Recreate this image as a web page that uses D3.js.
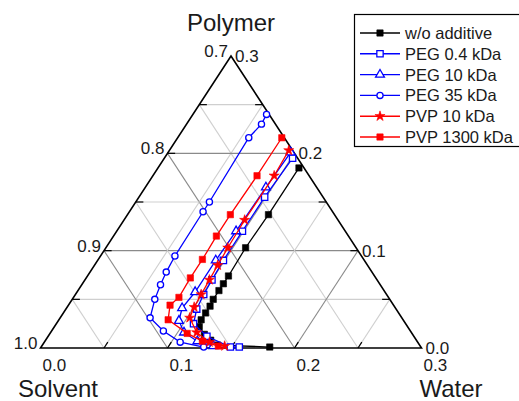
<!DOCTYPE html>
<html><head><meta charset="utf-8">
<script src="https://cdn.jsdelivr.net/npm/d3@7"></script>
<style>body{margin:0;background:#fff;}svg{display:block;font-family:"Liberation Sans",Arial,sans-serif;}</style>
</head><body><svg id="c" width="519" height="401"></svg>
<script>
// ---- data: each point is [water fraction, polymer fraction]; solvent = 1 - water - polymer
const seriesNames = ["w/o additive","PEG 0.4 kDa","PEG 10 kDa","PEG 35 kDa","PVP 10 kDa","PVP 1300 kDa"];
const woAdditive = [[.111,.185],[.111,.137],[.110,.103],[.111,.074],[.111,.066],[.111,.059],[.111,.050],[.112,.043],[.112,.036],[.112,.029],[.114,.022],[.122,.014],[.130,.008],[.138,.003],[.180,.001]];
const peg04 = [[.101,.195],[.099,.155],[.099,.120],[.099,.090],[.100,.070],[.101,.055],[.103,.040],[.108,.025],[.125,.012],[.149,.001],[.156,.001]];
const peg10 = [[.0965,.201],[.095,.165],[.094,.120],[.093,.090],[.093,.0575],[.091,.041],[.095,.028],[.105,.016],[.120,.007],[.135,.002]];
const peg35 = [[.058,.240],[.059,.230],[.056,.216],[.058,.150],[.058,.140],[.0586,.0945],[.060,.078],[.062,.065],[.065,.050],[.0708,.031],[.088,.0175],[.107,.006],[.128,.001]];
const pvp10 = [[.094,.203],[.0955,.177],[.095,.1315],[.096,.103],[.097,.085],[.098,.070],[.099,.055],[.100,.042],[.102,.031],[.115,.016],[.130,.006],[.144,.002]];
const pvp1300 = [[.082,.216],[.082,.177],[.081,.137],[.081,.115],[.082,.091],[.082,.072],[.083,.052],[.080,.044],[.086,.029],[.108,.015],[.124,.007],[.139,.002]];
const seriesData = [woAdditive, peg04, peg10, peg35, pvp10, pvp1300];
const seriesColors = ["#000000","#0000ff","#0000ff","#0000ff","#ff0000","#ff0000"];
const seriesSymbols = ["square","square","triangle","circle","star","square"];
const seriesFilled = [true,false,false,false,true,true];
const gridValues = [0.05,0.10,0.15,0.20,0.25];
const solventTicks = ["1.0","0.9","0.8","0.7"];
const waterTicks = ["0.0","0.1","0.2","0.3"];
const polymerTicks = ["0.0","0.1","0.2","0.3"];
const axisTitles = {top:"Polymer", left:"Solvent", right:"Water"};

// ---- geometry
const BL = {x:40.5, y:348}, BR = {x:421.5, y:348}, T = {x:231, y:56};
const wX = d3.scaleLinear().domain([0,0.3]).range([0, BR.x-BL.x]);
const pX = d3.scaleLinear().domain([0,0.3]).range([0, T.x-BL.x]);
const pY = d3.scaleLinear().domain([0,0.3]).range([BL.y, T.y]);
const P = (w,p) => [BL.x + wX(w) + pX(p), pY(p)];

const svg = d3.select("#c");
const g = svg.append("g");

// grid lines
gridValues.forEach(v => {
  const major = Math.abs(v*10 - Math.round(v*10)) < 1e-6;
  const col = major ? "#8a8a8a" : "#cfcfcf";
  const segs = [
    [P(0,v), P(0.3-v,v)],
    [P(v,0), P(v,0.3-v)],
    [P(0.3-v,0), P(0,0.3-v)]
  ];
  segs.forEach(s => g.append("line").attr("x1",s[0][0]).attr("y1",s[0][1]).attr("x2",s[1][0]).attr("y2",s[1][1])
    .attr("stroke",col).attr("stroke-width",1.1));
});

// frame
g.append("path").attr("d", d3.line()([P(0,0),P(0.3,0),P(0,0.3)]) + "Z")
  .attr("fill","none").attr("stroke","#000").attr("stroke-width",1.6);

// small ticks
gridValues.forEach(v=>{
  const L = 0.006;
  [[P(0,v),P(L,v)],[P(v,0),P(v,L)],[P(0.3-v,v),P(0.3-v-L,v)]].forEach(s=>
    g.append("line").attr("x1",s[0][0]).attr("y1",s[0][1]).attr("x2",s[1][0]).attr("y2",s[1][1]).attr("stroke","#000").attr("stroke-width",1.2));
});

// tick labels
const tl = g.append("g").attr("font-size",17).attr("fill","#1a1a1a");
waterTicks.forEach((t,i)=>{ const q=P(i*0.1,0); tl.append("text").attr("x",q[0]+2).attr("y",q[1]+23).text(t); });
solventTicks.forEach((t,i)=>{ const q=P(0,i*0.1); tl.append("text").attr("x",q[0]-3).attr("y",q[1]+1).attr("text-anchor","end").text(t); });
polymerTicks.forEach((t,i)=>{ const q=P(0.3-i*0.1,i*0.1); tl.append("text").attr("x",q[0]+4).attr("y",q[1]+6).text(t); });

// axis titles
const tt = g.append("g").attr("font-size",24).attr("fill","#1a1a1a");
tt.append("text").attr("x",T.x).attr("y",31).attr("text-anchor","middle").text(axisTitles.top);
tt.append("text").attr("x",58).attr("y",397).attr("text-anchor","middle").text(axisTitles.left);
tt.append("text").attr("x",451).attr("y",397).attr("text-anchor","middle").text(axisTitles.right);

// series
const symType = {square:d3.symbolSquare, triangle:d3.symbolTriangle, circle:d3.symbolCircle, star:d3.symbolStar};
const symSize = {square:40, triangle:34, circle:30, star:32};
function drawMarker(sel, name, filled, col){
  sel.attr("d", d3.symbol().type(symType[name]).size(symSize[name])())
    .attr("fill", filled ? col : "#fff").attr("stroke", col).attr("stroke-width", filled ? 0.6 : 1.3);
}
const lineGen = d3.line().x(d=>P(d[0],d[1])[0]).y(d=>P(d[0],d[1])[1]);
seriesData.forEach((data,i)=>{
  const sg = g.append("g");
  sg.append("path").attr("d", lineGen(data)).attr("fill","none").attr("stroke",seriesColors[i]).attr("stroke-width",1.3);
  data.forEach(d=>{ const q=P(d[0],d[1]);
    drawMarker(sg.append("path").attr("transform",`translate(${q[0]},${q[1]})`), seriesSymbols[i], seriesFilled[i], seriesColors[i]); });
});

// legend
const lg = svg.append("g");
lg.append("rect").attr("x",354.5).attr("y",14.5).attr("width",170).attr("height",132).attr("fill","#fff").attr("stroke","#000").attr("stroke-width",1.2);
seriesNames.forEach((n,i)=>{
  const y = 33 + i*20.8;
  lg.append("line").attr("x1",360).attr("x2",400).attr("y1",y).attr("y2",y).attr("stroke",seriesColors[i]).attr("stroke-width",1.4);
  drawMarker(lg.append("path").attr("transform",`translate(380,${y})`), seriesSymbols[i], seriesFilled[i], seriesColors[i]);
  lg.append("text").attr("x",405).attr("y",y+6).attr("font-size",16.5).attr("fill","#1a1a1a").text(n);
});
</script></body></html>
